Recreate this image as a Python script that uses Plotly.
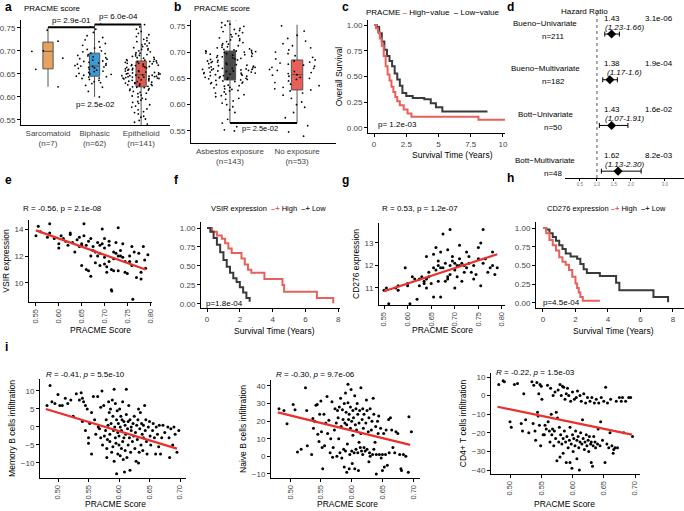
import plotly.graph_objects as go

W, H = 684, 511
FONT = "Arial, Liberation Sans, sans-serif"
RED = "#e8605a"
DARK = "#3a3a3a"
FIT = "#e8302c"

# ---- panel a : PRACME score by histology ----
subtypes = ["Sarcomatoid", "Biphasic", "Epithelioid"]
subtype_labels = ["Sarcomatoid<br>(n=7)", "Biphasic<br>(n=62)", "Epithelioid<br>(n=141)"]
subtype_colors = ["#e8a25e", "#3b9bd6", "#e05a4f"]
subtype_q1 = [0.661, 0.645, 0.622]
subtype_median = [0.699, 0.667, 0.648]
subtype_q3 = [0.719, 0.695, 0.678]
subtype_low = [0.622, 0.600, 0.530]
subtype_high = [0.751, 0.757, 0.757]
sarc_scores = [0.700, 0.721, 0.660, 0.622, 0.699, 0.684, 0.745]
biph_scores = [0.600, 0.612, 0.621, 0.625, 0.629, 0.631, 0.633, 0.636, 0.638, 0.640, 0.641, 0.643,
               0.644, 0.645, 0.647, 0.649, 0.650, 0.651, 0.653, 0.655, 0.656, 0.658, 0.660, 0.662,
               0.663, 0.664, 0.665, 0.666, 0.667, 0.668, 0.669, 0.671, 0.672, 0.674, 0.675, 0.677,
               0.678, 0.680, 0.682, 0.683, 0.685, 0.687, 0.689, 0.690, 0.692, 0.694, 0.695, 0.698,
               0.700, 0.703, 0.706, 0.708, 0.712, 0.716, 0.720, 0.724, 0.729, 0.733, 0.740, 0.747,
               0.752, 0.758]
epit_scores = [0.530, 0.536, 0.541, 0.545, 0.549, 0.552, 0.556, 0.558, 0.563, 0.566, 0.568, 0.572,
               0.574, 0.578, 0.580, 0.583, 0.586, 0.588, 0.590, 0.593, 0.595, 0.597, 0.600, 0.602,
               0.604, 0.607, 0.608, 0.610, 0.612, 0.614, 0.615, 0.617, 0.618, 0.620, 0.621,
               0.622, 0.623, 0.624, 0.625, 0.626, 0.627, 0.628, 0.629, 0.630, 0.631, 0.632, 0.633,
               0.634, 0.635, 0.636, 0.637, 0.638, 0.639, 0.640, 0.640, 0.641, 0.641, 0.642, 0.642,
               0.643, 0.643, 0.644, 0.644, 0.645, 0.645, 0.646, 0.646, 0.647, 0.647, 0.648,
               0.649, 0.650, 0.650, 0.651, 0.652, 0.652, 0.653, 0.654, 0.655, 0.656, 0.657, 0.658,
               0.659, 0.660, 0.661, 0.662, 0.663, 0.664, 0.665, 0.666, 0.667, 0.668, 0.668, 0.669,
               0.670, 0.671, 0.672, 0.673, 0.673, 0.674, 0.675, 0.676, 0.677, 0.677, 0.678,
               0.679, 0.680, 0.681, 0.682, 0.684, 0.685, 0.686, 0.688, 0.689, 0.690, 0.692, 0.693,
               0.695, 0.696, 0.698, 0.700, 0.702, 0.703, 0.705, 0.707, 0.709, 0.711, 0.713, 0.715,
               0.717, 0.720, 0.722, 0.725, 0.728, 0.731, 0.735, 0.738, 0.742, 0.747, 0.752, 0.757]

# ---- panel b : PRACME score by asbestos exposure ----
exposure = ["Asbestos exposure", "No exposure"]
exposure_labels = ["Asbestos exposure<br>(n=143)", "No exposure<br>(n=53)"]
exposure_colors = ["#4a4a4a", "#e8605a"]
exposure_q1 = [0.647, 0.628]
exposure_median = [0.670, 0.657]
exposure_q3 = [0.702, 0.685]
exposure_low = [0.565, 0.565]
exposure_high = [0.770, 0.752]
asb_scores = [0.550, 0.552, 0.558, 0.565, 0.572, 0.585, 0.590, 0.596, 0.600, 0.603, 0.607, 0.610,
              0.612, 0.615, 0.617, 0.619, 0.620, 0.622, 0.624, 0.626, 0.627, 0.629, 0.630, 0.632,
              0.633, 0.635, 0.636, 0.637, 0.638, 0.640, 0.641, 0.642, 0.643, 0.644, 0.645, 0.646,
              0.647, 0.648, 0.648, 0.649, 0.650, 0.651, 0.651, 0.652, 0.653, 0.654, 0.655, 0.655,
              0.656, 0.657, 0.658, 0.658, 0.659, 0.660, 0.660, 0.661, 0.662, 0.662, 0.663, 0.664,
              0.664, 0.665, 0.666, 0.666, 0.667, 0.667, 0.668, 0.668, 0.669, 0.669, 0.670, 0.670,
              0.671, 0.672, 0.673, 0.674, 0.675, 0.676, 0.677, 0.678, 0.679, 0.680, 0.681, 0.682,
              0.683, 0.684, 0.685, 0.686, 0.687, 0.688, 0.689, 0.690, 0.691, 0.692, 0.693, 0.694,
              0.695, 0.696, 0.697, 0.697, 0.698, 0.699, 0.700, 0.700, 0.701, 0.701, 0.702, 0.702,
              0.703, 0.704, 0.705, 0.706, 0.708, 0.709, 0.710, 0.712, 0.713, 0.715, 0.716, 0.718,
              0.720, 0.722, 0.723, 0.725, 0.727, 0.729, 0.731, 0.733, 0.735, 0.737, 0.739, 0.741,
              0.743, 0.745, 0.747, 0.749, 0.751, 0.753, 0.756, 0.759, 0.762, 0.766, 0.770]
noexp_scores = [0.540, 0.548, 0.560, 0.575, 0.585, 0.595, 0.600, 0.605, 0.612, 0.618, 0.622, 0.626,
                0.628, 0.630, 0.633, 0.636, 0.639, 0.642, 0.645, 0.648, 0.650, 0.652, 0.654, 0.656,
                0.657, 0.659, 0.661, 0.663, 0.665, 0.667, 0.669, 0.671, 0.673, 0.675, 0.677, 0.679,
                0.681, 0.683, 0.685, 0.687, 0.690, 0.693, 0.697, 0.700, 0.704, 0.708, 0.712, 0.716,
                0.721, 0.726, 0.732, 0.740, 0.750]

# ---- panel c : survival by PRACME ----
c_high_t = [0, 0.15, 0.3, 0.45, 0.6, 0.75, 0.9, 1.05, 1.2, 1.35, 1.5, 1.65, 1.8, 2.0, 2.3, 2.6, 2.9, 8.1, 10.4]
c_high_s = [1.0, 0.97, 0.93, 0.87, 0.80, 0.70, 0.60, 0.52, 0.46, 0.40, 0.35, 0.30, 0.26, 0.22, 0.18, 0.14, 0.11, 0.08, 0.08]
c_low_t = [0, 0.2, 0.4, 0.6, 0.8, 1.0, 1.2, 1.4, 1.6, 1.8, 2.0, 2.2, 2.5, 3.0, 3.9, 4.4, 4.8, 5.3, 8.8]
c_low_s = [1.0, 0.98, 0.92, 0.84, 0.76, 0.70, 0.65, 0.60, 0.53, 0.47, 0.41, 0.34, 0.31, 0.29, 0.28, 0.24, 0.20, 0.16, 0.16]

# ---- panel d : hazard ratios ----
cohorts = ["Bueno\u2212Univariate", "Bueno\u2212Multivariate", "Bott\u2212Univariate", "Bott\u2212Multivariate"]
cohort_n = [211, 182, 50, 48]
hr = [1.43, 1.38, 1.43, 1.62]
hr_low = [1.23, 1.17, 1.07, 1.13]
hr_high = [1.66, 1.60, 1.91, 2.30]
hr_ci_text = ["(1.23-1.66)", "(1.17-1.6)", "(1.07-1.91)", "(1.13-2.30)"]
hr_p = ["3.1e-06", "1.9e-04", "1.6e-02", "8.2e-03"]
cohort_row = [4, 3, 2, 1]

# ---- panel e : VSIR vs PRACME ----
e_x = [0.550, 0.555, 0.560, 0.575, 0.580, 0.580, 0.590, 0.600, 0.600, 0.605, 0.610, 0.615, 0.620, 0.625,
       0.625, 0.630, 0.635, 0.640, 0.645, 0.645, 0.650, 0.650, 0.655, 0.655, 0.660, 0.660, 0.665, 0.665,
       0.670, 0.670, 0.675, 0.675, 0.680, 0.680, 0.685, 0.685, 0.690, 0.690, 0.695, 0.695, 0.700, 0.700,
       0.700, 0.705, 0.705, 0.710, 0.710, 0.710, 0.715, 0.715, 0.716, 0.720, 0.720, 0.725, 0.725, 0.730,
       0.730, 0.735, 0.735, 0.740, 0.740, 0.745, 0.745, 0.750, 0.755, 0.760, 0.760, 0.765, 0.770, 0.770,
       0.775, 0.762, 0.780, 0.780, 0.785, 0.790, 0.788, 0.795, 0.700, 0.720, 0.650, 0.670, 0.690, 0.730,
       0.755]
e_y = [13.5, 14.2, 13.8, 13.4, 14.4, 13.7, 13.3, 12.9, 12.6, 13.5, 13.3, 13.1, 12.8, 13.6,
       13.7, 13.0, 12.3, 13.2, 13.4, 12.7, 11.3, 12.8, 14.4, 13.5, 12.8, 11.0, 13.1, 10.9,
       10.5, 13.3, 12.7, 12.4, 12.3, 11.5, 12.0, 13.0, 11.3, 12.8, 14.0, 12.9, 11.9, 12.6,
       13.3, 11.2, 10.8, 12.8, 13.1, 11.6, 11.0, 9.5, 9.4, 12.3, 11.8, 13.0, 12.2, 10.9,
       14.1, 12.0, 12.4, 11.9, 12.9, 10.8, 11.6, 10.7, 12.0, 11.3, 12.7, 12.3, 10.4, 11.6,
       12.2, 8.8, 10.8, 10.3, 12.7, 11.1, 11.7, 12.1, 11.4, 10.9, 12.9, 12.0, 12.2, 12.0,
       11.6]
e_fit_x = [0.550, 0.790]
e_fit_y = [13.9, 11.0]

# ---- panel f : survival by VSIR ----
f_high_t = [0, 0.3, 0.6, 0.9, 1.1, 1.3, 1.5, 2.1, 2.3, 2.5, 2.7, 3.5, 4.6, 4.7, 6.7, 7.7]
f_high_s = [1.0, 0.95, 0.90, 0.86, 0.80, 0.73, 0.67, 0.60, 0.52, 0.45, 0.41, 0.33, 0.25, 0.16, 0.08, 0.01]
f_low_t = [0, 0.2, 0.4, 0.6, 0.8, 1.0, 1.2, 1.4, 1.6, 1.8, 2.0, 2.2, 2.4, 2.6]
f_low_s = [1.0, 0.95, 0.87, 0.78, 0.68, 0.58, 0.49, 0.41, 0.34, 0.29, 0.22, 0.15, 0.08, 0.03]

# ---- panel g : CD276 vs PRACME ----
g_x = [0.550, 0.555, 0.560, 0.575, 0.580, 0.580, 0.595, 0.600, 0.600, 0.605, 0.610, 0.615, 0.620, 0.625,
       0.625, 0.630, 0.635, 0.635, 0.640, 0.640, 0.645, 0.645, 0.650, 0.655, 0.655, 0.655, 0.660, 0.660,
       0.665, 0.665, 0.670, 0.670, 0.670, 0.675, 0.675, 0.680, 0.680, 0.685, 0.685, 0.690, 0.690, 0.690,
       0.695, 0.695, 0.700, 0.700, 0.700, 0.705, 0.705, 0.710, 0.710, 0.715, 0.715, 0.720, 0.720, 0.725,
       0.725, 0.730, 0.730, 0.735, 0.740, 0.740, 0.745, 0.750, 0.750, 0.755, 0.755, 0.760, 0.760, 0.765,
       0.770, 0.775, 0.780, 0.780, 0.785, 0.790, 0.710, 0.685, 0.640, 0.665]
g_y = [10.9, 11.0, 10.3, 11.0, 10.9, 11.1, 11.9, 11.2, 11.1, 10.3, 11.5, 11.4, 10.5, 11.1,
       11.4, 11.5, 11.2, 11.3, 12.4, 11.0, 11.7, 11.5, 11.2, 11.9, 12.5, 10.6, 12.8, 11.8,
       12.2, 11.3, 11.9, 12.6, 10.6, 11.9, 13.4, 11.3, 12.1, 12.7, 11.4, 11.6, 12.0, 13.6,
       12.4, 12.2, 12.1, 11.8, 11.0, 12.0, 11.5, 12.9, 12.3, 11.3, 12.1, 12.0, 11.7, 12.6,
       11.9, 12.1, 12.4, 11.7, 12.0, 11.4, 11.6, 12.8, 12.3, 13.0, 11.1, 13.6, 12.1, 12.3,
       11.7, 11.9, 12.6, 12.0, 11.6, 11.9, 12.0, 11.5, 11.4, 12.0]
g_fit_x = [0.550, 0.790]
g_fit_y = [10.85, 12.5]

# ---- panel h : survival by CD276 ----
h_high_t = [0, 0.2, 0.4, 0.6, 0.8, 1.0, 1.2, 1.4, 1.6, 1.8, 2.0, 2.1, 2.2, 2.3, 2.45, 3.5]
h_high_s = [1.0, 0.93, 0.84, 0.77, 0.70, 0.61, 0.55, 0.51, 0.44, 0.35, 0.26, 0.20, 0.14, 0.08, 0.03, 0.03]
h_low_t = [0, 0.2, 0.4, 0.6, 0.8, 1.0, 1.2, 1.4, 1.7, 2.1, 2.3, 2.5, 2.7, 3.5, 4.5, 4.7, 6.8, 7.7]
h_low_s = [1.0, 0.98, 0.93, 0.88, 0.83, 0.77, 0.72, 0.66, 0.62, 0.59, 0.52, 0.45, 0.40, 0.36, 0.27, 0.17, 0.08, 0.01]

# ---- panel i : immune infiltration vs PRACME ----
mem_b = [(0.482, 6), (0.487, 11.5), (0.490, 7), (0.495, 6.5), (0.500, 9), (0.503, 6), (0.507, 6),
         (0.512, 8), (0.516, 6.5), (0.521, 7.5), (0.525, 3), (0.530, 9.2), (0.535, 7.5), (0.538, 9.5),
         (0.540, 8), (0.540, 1.5), (0.542, 7), (0.545, 6), (0.545, -1), (0.548, 5), (0.550, -3),
         (0.550, -4.5), (0.552, 1), (0.555, 4), (0.555, -7.5), (0.558, 8.5), (0.560, 2), (0.562, -2),
         (0.565, 8.5), (0.566, 0), (0.568, -0.5), (0.570, -3), (0.570, 5.5), (0.572, 10), (0.573, -5),
         (0.575, 6), (0.576, -2.5), (0.578, -1), (0.579, 2), (0.580, -8.5), (0.580, -6), (0.581, -3.5),
         (0.582, 0.5), (0.583, 7), (0.584, 4), (0.585, -4), (0.585, -2), (0.586, 5), (0.587, 1),
         (0.588, -7), (0.589, 7.5), (0.590, -5.5), (0.590, 3), (0.591, -1), (0.592, 10.5), (0.592, -9.5),
         (0.593, 0), (0.594, 6.5), (0.594, -3), (0.595, -4.5), (0.596, 2), (0.596, -13), (0.597, 4.5),
         (0.598, -7.5), (0.598, -1.5), (0.599, 1), (0.600, -5), (0.600, -2.5), (0.601, 5), (0.602, -8),
         (0.602, 0), (0.603, 3), (0.604, -6), (0.604, -1), (0.605, 2), (0.606, 7), (0.606, -4),
         (0.607, -9), (0.608, 1.5), (0.608, -3), (0.609, -12.5), (0.610, 0.5), (0.610, -6.5), (0.611, -2),
         (0.612, 10.5), (0.612, 3.5), (0.613, -8.5), (0.614, -0.5), (0.615, 1.5), (0.615, -5), (0.616, 6),
         (0.617, -3), (0.618, -12), (0.618, 2), (0.619, -7), (0.620, -1), (0.620, 0), (0.622, -4),
         (0.623, 1), (0.624, -2.5), (0.625, 3), (0.626, -6), (0.627, -1.5), (0.628, -9.5), (0.629, 0.5),
         (0.630, -3.5), (0.631, 2), (0.632, 5), (0.632, -10), (0.633, -7), (0.634, -0.5), (0.635, 4),
         (0.636, -5), (0.637, 1), (0.638, -2), (0.639, -6.5), (0.640, 0.5), (0.640, -3), (0.642, 6),
         (0.643, -1), (0.644, 2), (0.645, -4), (0.646, -7.5), (0.648, 0), (0.650, 1.5), (0.651, -2.5),
         (0.652, -5), (0.655, -1), (0.656, 1), (0.658, -3), (0.660, -7.5), (0.661, 0), (0.663, -2),
         (0.665, -5.5), (0.666, 0.5), (0.668, -7.5), (0.670, -3), (0.672, 0.5), (0.675, -1.5), (0.680, 0),
         (0.682, -3), (0.683, -8.5), (0.685, -0.5), (0.688, -5), (0.690, 0), (0.692, -2), (0.695, -7),
         (0.698, -1)]
naive_b = [(0.482, 27), (0.490, 26), (0.495, 18.5), (0.505, 29.5), (0.508, 26.5), (0.512, 2.5), (0.518, 4),
           (0.525, 39), (0.527, 26), (0.528, 6), (0.535, 1), (0.537, 21.5), (0.538, 16), (0.540, 20),
           (0.542, 29), (0.544, 29.5), (0.545, 12.5), (0.547, 8.5), (0.548, 24), (0.550, 31.5), (0.551, 14),
           (0.552, 5), (0.553, -7), (0.555, 24), (0.556, 6), (0.558, 19), (0.560, 34), (0.561, 13),
           (0.563, 20.5), (0.565, 2), (0.566, 10), (0.568, 31), (0.569, -0.5), (0.570, 5), (0.572, 15),
           (0.573, 27), (0.575, 19), (0.576, 0), (0.577, 26), (0.578, 22), (0.579, 10), (0.580, 28),
           (0.581, 2), (0.582, 33), (0.583, 17), (0.584, -1), (0.585, 26.5), (0.586, 21), (0.587, 4),
           (0.588, 30), (0.588, -6), (0.589, 19), (0.590, 36), (0.590, 3), (0.591, 25), (0.592, -9),
           (0.592, 18), (0.593, 7), (0.594, 41), (0.594, 30.5), (0.595, 21), (0.596, -7), (0.596, 24),
           (0.597, 1), (0.598, 16), (0.598, 28), (0.599, 38), (0.600, 20), (0.600, 3), (0.601, -4),
           (0.602, 26), (0.602, 12), (0.603, 22), (0.604, 2), (0.605, 34.5), (0.605, -7), (0.606, 18),
           (0.607, 27), (0.607, 4), (0.608, 15), (0.609, 30), (0.610, 2), (0.610, 24), (0.611, -8),
           (0.612, 19), (0.612, 8), (0.613, 26), (0.614, 5), (0.615, 39), (0.615, 13), (0.616, 3),
           (0.617, 21), (0.618, 27), (0.618, 1), (0.619, 16), (0.620, 24), (0.620, 5), (0.622, 3),
           (0.623, 19), (0.624, 32), (0.625, 26), (0.625, 4), (0.627, 14), (0.628, -3), (0.628, 22),
           (0.629, 2), (0.630, 27), (0.630, 0), (0.632, 15), (0.633, 20), (0.634, 1), (0.635, 33),
           (0.636, 24), (0.636, 4), (0.638, 8), (0.639, 17), (0.640, -10), (0.640, 1), (0.642, 20),
           (0.643, 13), (0.644, 23), (0.645, 1), (0.647, 16), (0.648, -1), (0.650, -8), (0.650, 1),
           (0.652, 13), (0.653, -6), (0.655, 1), (0.656, 15), (0.658, -5), (0.660, 21), (0.661, 2),
           (0.663, 22), (0.665, 15), (0.667, 5), (0.670, 2), (0.672, 14), (0.675, 13), (0.678, 1),
           (0.680, -7), (0.681, -8), (0.684, 1), (0.688, 0), (0.692, -9), (0.693, 22.5), (0.697, 14)]
cd4_t = [(0.482, 6), (0.489, 8), (0.491, 7.5), (0.500, -14), (0.502, -17), (0.507, 6), (0.512, 6.5),
         (0.518, -15), (0.520, -19), (0.522, 1), (0.525, -13), (0.530, -20), (0.535, 7.5), (0.537, -15),
         (0.538, 5.5), (0.540, -19), (0.541, -24), (0.543, 7), (0.544, -9), (0.545, -11), (0.546, 1),
         (0.547, -16), (0.548, 6), (0.549, -27), (0.550, 5), (0.551, -2), (0.553, -21), (0.555, -21),
         (0.556, -16), (0.558, -18), (0.560, 5.5), (0.561, -14), (0.563, -19), (0.564, -25), (0.565, 4),
         (0.566, -10), (0.567, -21), (0.568, -18), (0.569, 0), (0.570, -27), (0.571, -19), (0.572, 2),
         (0.573, -23), (0.574, -9), (0.575, -35), (0.576, -12), (0.577, 3), (0.578, -25), (0.579, -17),
         (0.580, 6), (0.580, -33), (0.581, -21), (0.582, 0), (0.583, -26), (0.584, 5), (0.585, -31),
         (0.585, -23), (0.586, 4.5), (0.587, -19), (0.588, -2), (0.589, -25), (0.590, 1), (0.590, -36),
         (0.591, -22), (0.592, 4), (0.593, -28), (0.594, 0), (0.595, -24), (0.596, -36), (0.596, -17),
         (0.597, -3), (0.598, -26), (0.599, -39), (0.600, -21), (0.600, 2), (0.601, -30), (0.602, -23),
         (0.603, -2), (0.604, -27), (0.605, -19), (0.606, -1), (0.607, -34), (0.607, -24), (0.608, 2.5),
         (0.609, -22), (0.610, -28), (0.611, -40), (0.612, -25), (0.612, 0), (0.613, -20), (0.614, -3),
         (0.615, -26), (0.616, -13), (0.617, -23), (0.618, 1), (0.619, -29), (0.620, -25), (0.621, -4),
         (0.622, -21), (0.623, -27), (0.624, -1), (0.625, -24), (0.626, -30), (0.627, -22), (0.628, -3),
         (0.629, -26), (0.630, -36), (0.630, -25), (0.631, -1), (0.632, -38), (0.633, -27), (0.634, -22),
         (0.635, -4), (0.636, -25), (0.637, -28), (0.638, -2), (0.640, -26), (0.641, -18), (0.642, -4),
         (0.644, -27), (0.645, -14), (0.646, -1), (0.648, -24), (0.650, -3), (0.652, -36), (0.653, 4.5),
         (0.655, -26), (0.656, -4), (0.658, -28), (0.660, -20), (0.661, -2), (0.663, -27), (0.665, -31),
         (0.666, -29), (0.668, -28), (0.670, -3), (0.672, -28), (0.675, -1), (0.678, -3), (0.680, -1),
         (0.682, -20), (0.685, -3), (0.690, -1), (0.693, -1), (0.696, -22)]
i_fit_x = [0.480, 0.695]
mem_b_fit = [5.0, -6.0]
naive_b_fit = [25.0, 6.5]
cd4_t_fit = [-6.0, -21.0]


def dom_x(left, right):
    return [left / W, right / W]


def dom_y(top, bottom):
    return [1 - bottom / H, 1 - top / H]


def axis(dom, rng, anchor, **kw):
    d = dict(domain=dom, range=rng, anchor=anchor, showline=True, linecolor="black", linewidth=1,
             ticks="outside", ticklen=3, tickcolor="black", showgrid=False, zeroline=False,
             automargin=False, tickfont=dict(size=8, color="#444", family=FONT),
             title=dict(font=dict(size=8.5, color="black", family=FONT)))
    d.update(kw)
    return d


fig = go.Figure()
ann = []


def text(x, y, s, size=8, xref="paper", yref="paper", **kw):
    a = dict(x=x, y=y, xref=xref, yref=yref, text=s, showarrow=False,
             font=dict(size=size, family=FONT, color="black"))
    a.update(kw)
    ann.append(a)


def px(x, y):
    return x / W, 1 - y / H


# panel a
for i, name in enumerate(subtypes):
    fig.add_trace(go.Box(x=[name], q1=[subtype_q1[i]], median=[subtype_median[i]], q3=[subtype_q3[i]],
                         lowerfence=[subtype_low[i]], upperfence=[subtype_high[i]], width=0.22,
                         fillcolor=subtype_colors[i], line=dict(color="#555", width=1),
                         whiskerwidth=0, xaxis="x", yaxis="y"))
for name, vals in zip(subtypes, [sarc_scores, biph_scores, epit_scores]):
    fig.add_trace(go.Box(x=[name] * len(vals), y=vals, boxpoints="all", jitter=1, pointpos=0, width=0.9,
                         fillcolor="rgba(0,0,0,0)", line=dict(color="rgba(0,0,0,0)"),
                         marker=dict(color="black", size=1.8), xaxis="x", yaxis="y"))
fig.add_trace(go.Scatter(x=subtypes[:2], y=[0.751, 0.751], mode="lines", line=dict(color="black", width=2),
                         xaxis="x", yaxis="y"))
fig.add_trace(go.Scatter(x=subtypes[1:], y=[0.757, 0.757], mode="lines", line=dict(color="black", width=2),
                         xaxis="x", yaxis="y"))

# panel b
for i, name in enumerate(exposure):
    fig.add_trace(go.Box(x=[name], q1=[exposure_q1[i]], median=[exposure_median[i]], q3=[exposure_q3[i]],
                         lowerfence=[exposure_low[i]], upperfence=[exposure_high[i]], width=0.17,
                         fillcolor=exposure_colors[i], line=dict(color="#555", width=1),
                         whiskerwidth=0, xaxis="x2", yaxis="y2"))
for name, vals in zip(exposure, [asb_scores, noexp_scores]):
    fig.add_trace(go.Box(x=[name] * len(vals), y=vals, boxpoints="all", jitter=1, pointpos=0, width=0.9,
                         fillcolor="rgba(0,0,0,0)", line=dict(color="rgba(0,0,0,0)"),
                         marker=dict(color="black", size=1.8), xaxis="x2", yaxis="y2"))
fig.add_trace(go.Scatter(x=exposure, y=[0.565, 0.565], mode="lines", line=dict(color="black", width=2),
                         xaxis="x2", yaxis="y2"))

# KM panels
for t, s, col, ax in [(c_low_t, c_low_s, DARK, "3"), (c_high_t, c_high_s, RED, "3"),
                      (f_high_t, f_high_s, RED, "6"), (f_low_t, f_low_s, DARK, "6"),
                      (h_low_t, h_low_s, DARK, "8"), (h_high_t, h_high_s, RED, "8")]:
    fig.add_trace(go.Scatter(x=t, y=s, mode="lines", line=dict(color=col, width=2, shape="hv"),
                             xaxis="x" + ax, yaxis="y" + ax))

# panel d
fig.add_trace(go.Scatter(x=[1, 1], y=[0.85, 4.45], mode="lines", line=dict(color="#555", width=1, dash="dot"),
                         xaxis="x4", yaxis="y4"))
fig.add_trace(go.Scatter(x=hr, y=cohort_row, mode="markers",
                         marker=dict(symbol="diamond", size=7, color="black"),
                         error_x=dict(type="data", symmetric=False,
                                      array=[h - m for h, m in zip(hr_high, hr)],
                                      arrayminus=[m - l for m, l in zip(hr, hr_low)],
                                      color="black", thickness=1, width=2.5),
                         xaxis="x4", yaxis="y4"))

# scatter panels
for xs, ys, fx, fy, ax in [(e_x, e_y, e_fit_x, e_fit_y, "5"), (g_x, g_y, g_fit_x, g_fit_y, "7"),
                           ([p[0] for p in mem_b], [p[1] for p in mem_b], i_fit_x, mem_b_fit, "9"),
                           ([p[0] for p in naive_b], [p[1] for p in naive_b], i_fit_x, naive_b_fit, "10"),
                           ([p[0] for p in cd4_t], [p[1] for p in cd4_t], i_fit_x, cd4_t_fit, "11")]:
    fig.add_trace(go.Scatter(x=xs, y=ys, mode="markers", marker=dict(color="black", size=3),
                             xaxis="x" + ax, yaxis="y" + ax))
    fig.add_trace(go.Scatter(x=fx, y=fy, mode="lines", line=dict(color=FIT, width=2.2),
                             xaxis="x" + ax, yaxis="y" + ax))

surv_ticks = dict(tickvals=[0, 0.25, 0.5, 0.75, 1], ticktext=["0.00", "0.25", "0.50", "0.75", "1.00"])
score_ticks = dict(tickvals=[0.55, 0.6, 0.65, 0.7, 0.75], ticktext=["0.55", "0.60", "0.65", "0.70", "0.75"])
rot = dict(tickangle=-90, tickfont=dict(size=7.5, color="#444", family=FONT))
e_ticks = dict(tickvals=[0.55, 0.6, 0.65, 0.7, 0.75, 0.8],
               ticktext=["0.55", "0.60", "0.65", "0.70", "0.75", "0.80"])
i_ticks = dict(tickvals=[0.5, 0.55, 0.6, 0.65, 0.7], ticktext=["0.50", "0.55", "0.60", "0.65", "0.70"])

fig.update_layout(
    width=W, height=H, margin=dict(l=0, r=0, t=0, b=0), showlegend=False,
    plot_bgcolor="white", paper_bgcolor="white", font=dict(family=FONT, size=8, color="black"),
    boxmode="overlay",
    xaxis=axis(dom_x(21, 170), [-0.58, 2.62], "y", type="category", tickvals=subtypes, ticktext=subtype_labels,
               ticks=""),
    yaxis=axis(dom_y(20, 125), [0.539, 0.767], "x", **score_ticks),
    xaxis2=axis(dom_x(191, 336), [-0.58, 1.58], "y2", type="category", tickvals=exposure,
                ticktext=exposure_labels, ticks=""),
    yaxis2=axis(dom_y(20, 143), [0.527, 0.761], "x2", **score_ticks),
    xaxis3=axis(dom_x(368, 505), [-0.47, 10.16], "y3", tickvals=[0, 2.5, 5, 7.5, 10]),
    yaxis3=axis(dom_y(20, 133), [-0.049, 1.049], "x3", title_text="Overall Survival", title_standoff=2,
                **surv_ticks),
    xaxis4=axis(dom_x(565, 684), [0.06, 3.56], "y4", tickvals=[0.5, 1, 1.5, 2, 3],
                ticktext=["0.5", "1.0", "1.5", "2.0", "3.0"], ticklen=2,
                tickfont=dict(size=4.5, color="#777")),
    yaxis4=axis(dom_y(8, 178), [0.85, 4.57], "x4", visible=False),
    xaxis5=axis(dom_x(29, 152), [0.5347, 0.804], "y5", **e_ticks, **rot),
    yaxis5=axis(dom_y(220, 302), [8.59, 14.67], "x5", tickvals=[10, 12, 14], title_text="VSIR expression",
                title_standoff=3),
    xaxis6=axis(dom_x(201, 340), [-0.37, 8.11], "y6", tickvals=[0, 2, 4, 6, 8]),
    yaxis6=axis(dom_y(222, 308), [-0.053, 1.079], "x6", **surv_ticks),
    xaxis7=axis(dom_x(379, 505), [0.5394, 0.8064], "y7", **e_ticks, **rot),
    yaxis7=axis(dom_y(223, 305), [10.24, 13.89], "x7", tickvals=[11, 12, 13], title_text="CD276 expression",
                title_standoff=3),
    xaxis8=axis(dom_x(536, 684), [-0.43, 8.68], "y8", tickvals=[0, 2, 4, 6, 8]),
    yaxis8=axis(dom_y(222, 308), [-0.067, 1.08], "x8", **surv_ticks),
    xaxis9=axis(dom_x(40, 186), [0.4705, 0.7098], "y9", **i_ticks, **rot),
    yaxis9=axis(dom_y(379, 478), [-14.17, 13.33], "x9", tickvals=[-10, -5, 0, 5, 10],
                title_text="Memory B cells infiltration", title_standoff=3),
    xaxis10=axis(dom_x(271, 420), [0.469, 0.711], "y10", **i_ticks, **rot),
    yaxis10=axis(dom_y(380, 478), [-12.3, 43.4], "x10", tickvals=[-10, 0, 10, 20, 30, 40],
                 title_text="Naive B cells infiltration", title_standoff=3),
    xaxis11=axis(dom_x(491, 640), [0.4696, 0.708], "y11", **i_ticks, **rot),
    yaxis11=axis(dom_y(373, 474), [-42.15, 12.15], "x11", tickvals=[-40, -30, -20, -10, 0, 10],
                 title_text="CD4+ T cells infiltration", title_standoff=3),
)

# panel letters
for letter, (lx, ly) in zip("abcdefghi", [(3, 7), (172, 7), (340, 7), (505, 7), (3, 180), (172, 180),
                                          (340, 180), (505, 178), (3, 347)]):
    x, y = px(lx, ly)
    text(x, y, "<b>" + letter + "</b>", size=12, xanchor="left", yanchor="middle")

# titles / p-values / x axis titles
for s, lx, ly, anchor, size in [("PRACME score", 22, 9, "left", 8), ("PRACME score", 192, 9, "left", 8),
                                ("p= 2.9e-01", 71, 21, "center", 8), ("p= 6.0e-04", 118, 16, "center", 8),
                                ("p= 2.5e-02", 95, 105, "center", 8), ("p= 2.5e-02", 260, 128, "center", 7.5),
                                ("p= 1.2e-03", 376, 125, "left", 8), ("p=1.8e-04", 204, 303, "left", 8),
                                ("p=4.5e-04", 541, 302, "left", 8),
                                ("R = -0.56, p = 2.1e-08", 62, 209, "center", 8),
                                ("R = 0.53, p = 1.2e-07", 420, 209, "center", 8),
                                ("<i>R</i> = -0.41, <i>p</i> = 5.5e-10", 85, 374, "center", 8),
                                ("<i>R</i> = -0.30, <i>p</i> = 9.7e-06", 315, 374, "center", 8),
                                ("<i>R</i> = -0.22, <i>p</i> = 1.5e-03", 535, 372, "center", 8),
                                ("Hazard Ratio", 584, 11, "center", 8),
                                ("Survival Time (Years)", 452, 155, "center", 8.5),
                                ("Survival Time (Years)", 274, 331, "center", 8.5),
                                ("Survival Time (Years)", 613, 331, "center", 8.5),
                                ("PRACME Score", 100, 330, "center", 8.5),
                                ("PRACME Score", 442, 330, "center", 8.5),
                                ("PRACME Score", 115, 504, "center", 8.5),
                                ("PRACME Score", 347, 504, "center", 8.5),
                                ("PRACME Score", 564, 504, "center", 8.5)]:
    x, y = px(lx, ly)
    text(x, y, s, size=size, xanchor=anchor, yanchor="middle")

x, y = px(364, 12)
text(x, y, "PRACME <span style='color:%s'><b>\u2013</b></span> High\u2212value  "
           "<span style='color:%s'><b>\u2013</b></span> Low\u2212value" % (RED, DARK),
     xanchor="left", yanchor="middle")
x, y = px(209, 208)
text(x, y, "VSIR expression  <span style='color:%s'><b>\u2013+</b></span> High  "
           "<span style='color:%s'><b>\u2013+</b></span> Low" % (RED, DARK), size=7.5,
     xanchor="left", yanchor="middle")
x, y = px(545, 208)
text(x, y, "CD276 expression <span style='color:%s'><b>\u2013+</b></span> High  "
           "<span style='color:%s'><b>\u2013+</b></span> Low" % (RED, DARK), size=7.5,
     xanchor="left", yanchor="middle")

# forest plot text columns
for i in range(len(cohorts)):
    row = cohort_row[i]
    text(545 / W, row, cohorts[i], yref="y4", xanchor="center", yanchor="middle", yshift=11)
    text(553 / W, row, "n=%d" % cohort_n[i], yref="y4", xanchor="center", yanchor="middle", yshift=-2)
    text(612 / W, row, "%.2f" % hr[i], yref="y4", xanchor="center", yanchor="middle", yshift=16)
    text(624 / W, row, "<i>" + hr_ci_text[i] + "</i>", yref="y4", xanchor="center", yanchor="middle", yshift=7)
    text(659 / W, row, hr_p[i], yref="y4", xanchor="center", yanchor="middle", yshift=16)

fig.update_layout(annotations=ann)
# the default page has an 8px body margin; drop it so the figure sits at the window origin
fig.write_html("out.html", config={"displayModeBar": False},
               post_script="document.body.style.margin='0';")
